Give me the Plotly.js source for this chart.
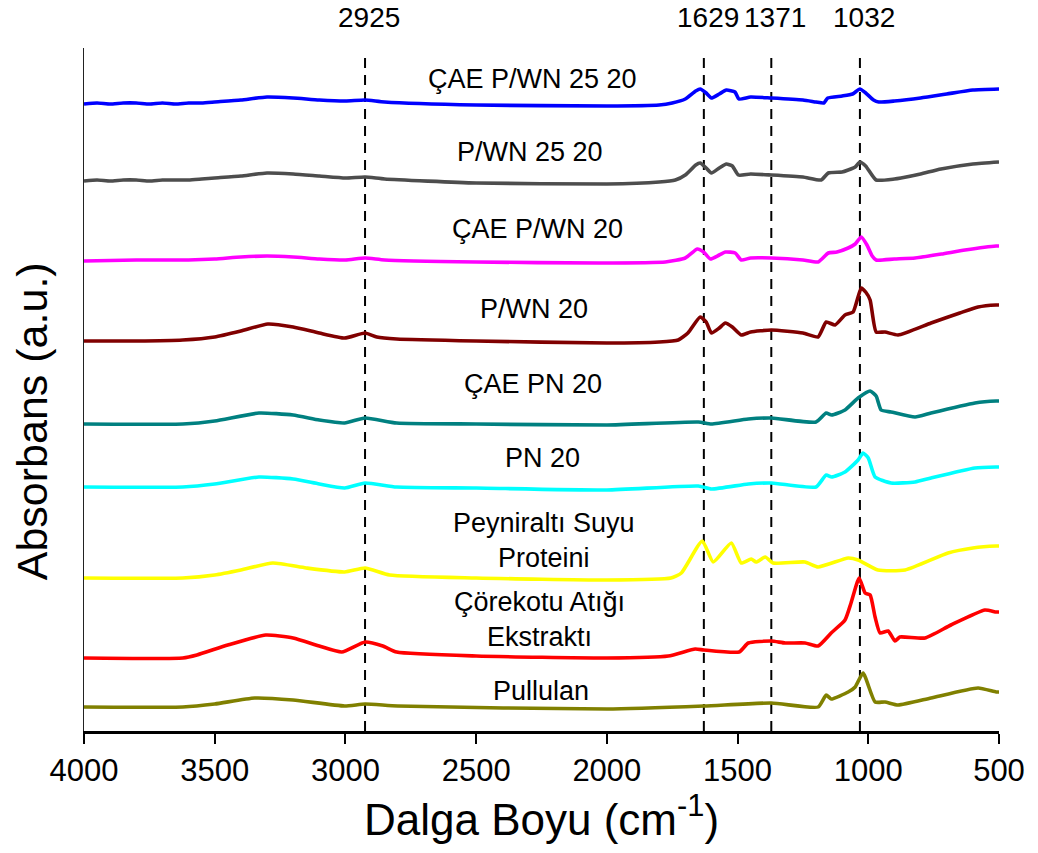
<!DOCTYPE html>
<html>
<head>
<meta charset="utf-8">
<script src="https://cdn.plot.ly/plotly-3.0.1.min.js"></script>
<style>html,body{margin:0;padding:0;background:#fff;}#chart{width:1038px;height:853px;}</style>
</head>
<body>
<div id="chart"></div>
<script>
// ---- Data (wavenumber cm-1, stacked absorbance in arbitrary units) ----
const seriesNames = ['ÇAE P/WN 25 20','P/WN 25 20','ÇAE P/WN 20','P/WN 20','ÇAE PN 20','PN 20','Peyniraltı Suyu<br>Proteini','Çörekotu Atığı<br>Ekstraktı','Pullulan'];
const peakMarks = [2925, 1629, 1371, 1032];
const tickValues = [4000, 3500, 3000, 2500, 2000, 1500, 1000, 500];

const wnBlue  = [4000,3950,3900,3850,3800,3750,3700,3650,3600,3550,3500,3400,3300,3200,3100,3000,2925,2850,2500,2000,1800,1750,1700,1660,1643,1620,1600,1570,1543,1510,1495,1450,1371,1250,1200,1170,1155,1100,1060,1032,1010,980,960,900,800,700,600,500];
const absBlue = [627,628,627,628,628,627,628,627,628,628,629,631,634,633,631,630,631,629,626,625,626,628,632,640,642,638,633,637,641,639,632,634,633,631,629,628,633,635,637,642,638,631,629,630,633,637,641,642];

const wnGray  = [4000,3950,3900,3850,3800,3750,3700,3650,3600,3550,3500,3400,3300,3200,3100,3000,2925,2850,2500,2000,1800,1738,1700,1660,1643,1620,1600,1570,1543,1520,1497,1450,1371,1250,1180,1153,1100,1077,1050,1032,1010,970,900,875,800,722,600,500];
const absGray = [550,551,550,551,551,550,551,551,551,552,553,555,558,557,555,553,554,552,548,547,549,551,556,566,568,563,558,563,567,565,556,557,556,554,551,558,559,561,564,569,565,551,552,553,557,562,567,569];

const wnMagenta  = [4000,3800,3600,3500,3400,3300,3200,3100,3000,2925,2850,2500,2032,1776,1700,1654,1630,1604,1570,1547,1509,1486,1450,1371,1250,1192,1153,1120,1077,1050,1027,1005,985,970,900,821,720,630,511,500];
const absMagenta = [470,471,471,472,474,475,474,472,471,473,471,469,468,469,473,482,479,472,476,479,478,471,473,473,471,469,478,479,483,487,494,486,475,471,472,473,477,481,485,485];

const wnDarkRed  = [4000,3800,3622,3500,3400,3297,3200,3100,3003,2925,2880,2804,2500,2000,1800,1727,1690,1643,1620,1600,1570,1547,1520,1486,1450,1371,1250,1192,1161,1127,1089,1058,1027,1010,993,970,936,886,760,650,580,511,500];
const absDarkRed = [390,390,391,394,400,407,404,398,393,398,394,392,390,388,389,391,398,414,409,398,403,408,404,396,399,401,398,394,409,406,416,419,443,439,431,399,399,396,408,418,424,426,426];

const wnTeal  = [4000,3622,3500,3331,3200,3100,3003,2925,2804,2500,2000,1650,1600,1459,1371,1200,1161,1140,1089,1039,993,970,951,913,821,760,592,511,500];
const absTeal = [307,307,310,318,316,311,308,313,308,307,306,309,307,312,313,309,318,316,321,333,340,335,321,319,314,318,328,330,330];

const wnCyan  = [4000,3622,3500,3331,3200,3100,3003,2925,2804,2500,2000,1650,1600,1459,1371,1200,1161,1140,1089,1039,1020,1000,974,913,821,760,592,511,500];
const absCyan = [244,244,247,254,252,247,243,248,244,243,241,245,242,247,248,244,256,254,259,271,278,273,254,248,249,253,263,264,264];

const wnYellow  = [4000,3622,3500,3400,3278,3150,3003,2925,2831,2500,2000,1755,1715,1635,1593,1524,1486,1448,1429,1394,1364,1242,1192,1077,1039,963,859,695,600,511,500];
const absYellow = [153,153,156,161,168,163,159,163,156,153,151,153,158,190,169,188,168,172,169,174,168,169,164,173,171,161,161,178,183,185,185];

const wnRed  = [4000,3622,3568,3450,3305,3200,3100,3014,2925,2857,2804,2500,2000,1765,1662,1629,1494,1459,1371,1318,1242,1192,1142,1089,1066,1035,1012,993,974,955,924,898,879,783,684,554,511,500];
const absRed = [73,73,76,86,96,93,85,79,89,85,79,75,73,75,82,81,79,88,90,88,88,85,98,111,128,153,138,136,114,98,100,90,94,93,106,121,119,119];

const wnOlive  = [4000,3622,3500,3347,3200,3003,2925,2800,2000,1629,1371,1192,1161,1142,1077,1050,1020,974,936,886,760,580,511,500];
const absOlive = [24,24,27,33,31,25,27,25,22,25,28,24,36,32,39,44,58,29,29,26,33,43,39,39];

// ---- Styling ----
const FONT = 'Arial, "Liberation Sans", sans-serif';
const seriesWn  = [wnBlue, wnGray, wnMagenta, wnDarkRed, wnTeal, wnCyan, wnYellow, wnRed, wnOlive];
const seriesAbs = [absBlue, absGray, absMagenta, absDarkRed, absTeal, absCyan, absYellow, absRed, absOlive];
const colors = ['#0000FF','#4D4D4D','#FF00FF','#800000','#008080','#00FFFF','#FFFF00','#FF0000','#808000'];
// label anchor positions (layout)
const labelPos = [[2283,652],[2294,579],[2267,502],[2277,422],[2281,347],[2248,273],[2241,191],[2256,112],[2252,40]];

const traces = seriesWn.map((wn, i) => ({
  x: wn, y: seriesAbs[i], type: 'scatter', mode: 'lines',
  name: seriesNames[i].replace('<br>', ' '),
  line: {color: colors[i], width: 3.6, shape: 'spline', smoothing: 0.5},
  hoverinfo: 'skip'
}));

const shapes = peakMarks.map(p => ({
  type: 'line', xref: 'x', yref: 'y', x0: p, x1: p, y0: 0, y1: 676,
  line: {color: '#000', width: 2, dash: '10px,7px'}, layer: 'below'
}));

const annotations = [];
seriesNames.forEach((n, i) => annotations.push({
  x: labelPos[i][0], y: labelPos[i][1], xref: 'x', yref: 'y', text: n,
  showarrow: false, xanchor: 'center', yanchor: 'middle',
  font: {family: FONT, size: 27, color: '#000'}
}));
// peak labels above the plot area
peakMarks.forEach(p => annotations.push({
  x: p, y: 1.044, xref: 'x', yref: 'paper', text: String(p), xshift: 4,
  showarrow: false, xanchor: 'center', yanchor: 'middle',
  font: {family: FONT, size: 28, color: '#000'}
}));
// y-axis title (placed as in the reference, below the plot's vertical centre)
annotations.push({
  x: -0.0565, y: 0.454, xref: 'paper', yref: 'paper', text: 'Absorbans (a.u.)',
  textangle: -90, showarrow: false, xanchor: 'center', yanchor: 'middle',
  font: {family: FONT, size: 43, color: '#000'}
});

const layout = {
  width: 1038, height: 853,
  margin: {l: 84, r: 39, t: 48, b: 122},
  paper_bgcolor: '#fff', plot_bgcolor: '#fff',
  showlegend: false,
  font: {family: FONT, color: '#000'},
  xaxis: {
    range: [4000, 500], tickvals: tickValues, ticktext: tickValues.map(String),
    showgrid: false, zeroline: false, showline: true, linecolor: '#000', linewidth: 3,
    ticks: 'outside', ticklen: 10, tickwidth: 2, tickcolor: '#000',
    tickfont: {family: FONT, size: 31, color: '#000'},
    title: {text: 'Dalga Boyu (cm<sup>-1</sup>)', font: {family: FONT, size: 44, color: '#000'}, standoff: 14},
    automargin: false
  },
  yaxis: {
    range: [0, 683], showgrid: false, zeroline: false, showline: true, linecolor: '#222', linewidth: 1.5,
    ticks: '', showticklabels: false,
    automargin: false
  },
  shapes: shapes,
  annotations: annotations
};

Plotly.newPlot('chart', traces, layout, {staticPlot: true, displayModeBar: false});
</script>
</body>
</html>
